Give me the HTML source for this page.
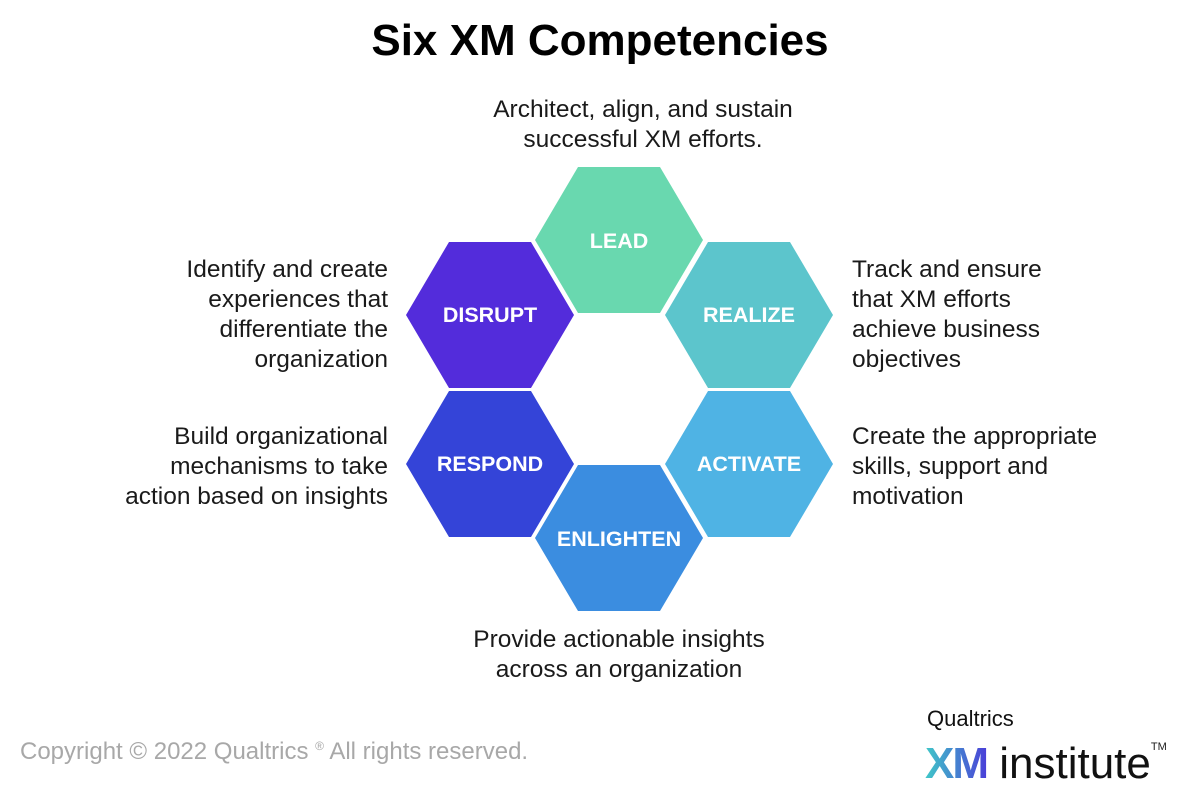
<!DOCTYPE html>
<html><head><style>
body{margin:0;width:1200px;height:782px;background:#fff;position:relative;overflow:hidden;font-family:"Liberation Sans",sans-serif;color:#1a1a1a}
.t{position:absolute;font-size:24.5px;line-height:30px}
.r{text-align:right}
</style></head><body>
<div style="position:absolute;left:0;width:1200px;top:16px;text-align:center;font-size:44px;font-weight:bold;color:#000">Six XM Competencies</div>
<div class="t" style="left:420px;width:400px;top:95px;text-align:center;left:443px">Architect, align, and sustain<br>successful XM efforts.</div>
<div class="t r" style="left:80px;width:308px;top:255px">Identify and create<br>experiences that<br>differentiate the<br>organization</div>
<div class="t r" style="left:80px;width:308px;top:422px">Build organizational<br>mechanisms to take<br>action based on insights</div>
<div class="t" style="left:852px;top:255px">Track and ensure<br>that XM efforts<br>achieve business<br>objectives</div>
<div class="t" style="left:852px;top:422px">Create the appropriate<br>skills, support and<br>motivation</div>
<div class="t" style="left:419px;width:400px;top:625px;text-align:center">Provide actionable insights<br>across an organization</div>
<svg width="1200" height="782" style="position:absolute;left:0;top:0">
<defs><polygon id="h" points="-84,0 -41,-73 41,-73 84,0 41,73 -41,73"/></defs>
<g font-family="Liberation Sans,sans-serif" font-weight="bold" font-size="21.5" fill="#fff" text-anchor="middle">
<use href="#h" x="619" y="240" fill="#69d8af"/><text x="619" y="248">LEAD</text>
<use href="#h" x="490" y="315" fill="#532cdb"/><text x="490" y="322">DISRUPT</text>
<use href="#h" x="749" y="315" fill="#5cc5cc"/><text x="749" y="322">REALIZE</text>
<use href="#h" x="490" y="464" fill="#3444d8"/><text x="490" y="471">RESPOND</text>
<use href="#h" x="749" y="464" fill="#4fb3e4"/><text x="749" y="471">ACTIVATE</text>
<use href="#h" x="619" y="538" fill="#3b8de0"/><text x="619" y="546">ENLIGHTEN</text>
</g>
</svg>
<div style="position:absolute;left:20px;top:738px;font-size:24px;color:#a8a8a8">Copyright © 2022 Qualtrics <sup style="font-size:12px">®</sup> All rights reserved.</div>
<div style="position:absolute;left:927px;top:706px;font-size:22px;color:#111">Qualtrics</div>
<div style="position:absolute;left:925px;top:722px;font-size:44px;line-height:50px;white-space:nowrap"><b style="background:linear-gradient(90deg,#40c8c8,#4a3ed8);-webkit-background-clip:text;color:transparent;letter-spacing:-2px">XM</b><span style="color:#111"> institute</span><sup style="font-size:11px;vertical-align:28px">TM</sup></div>
</body></html>
